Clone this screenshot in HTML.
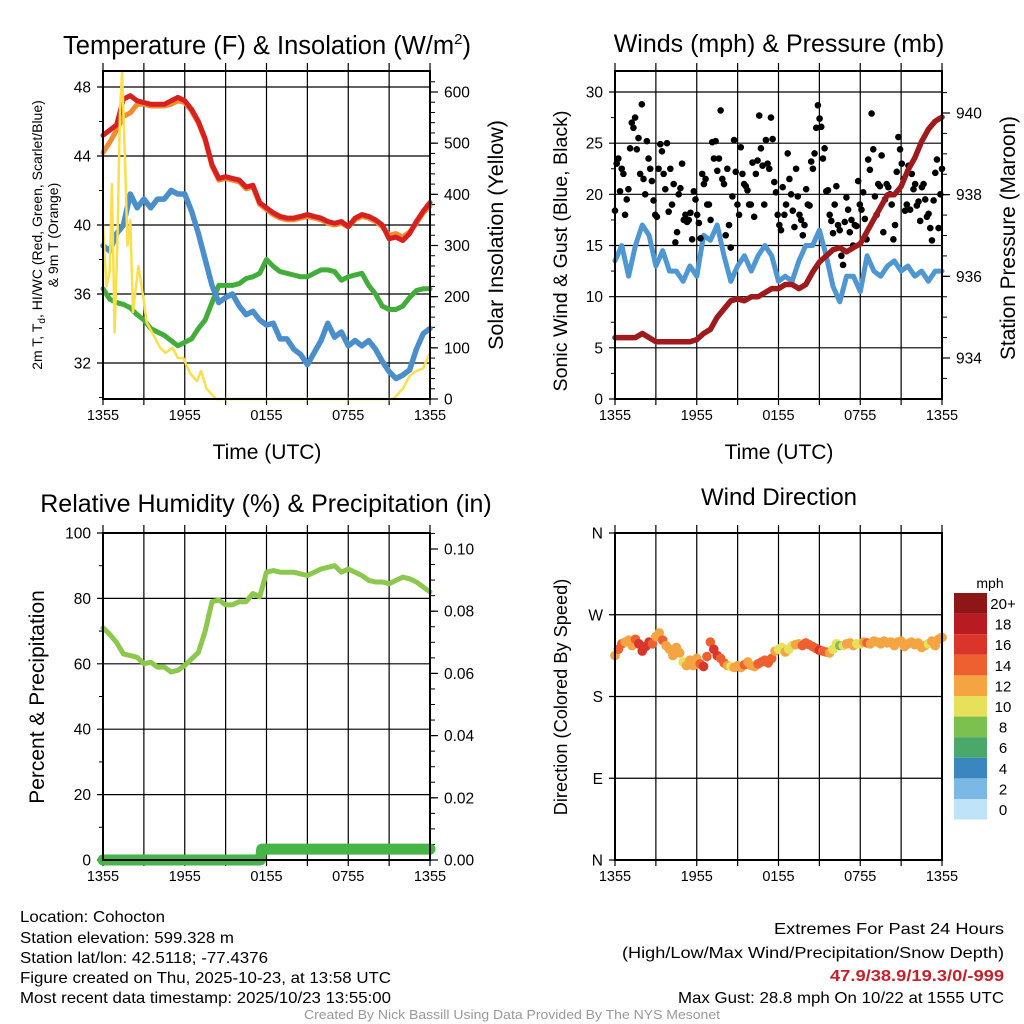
<!DOCTYPE html>
<html><head><meta charset="utf-8">
<style>
html,body{margin:0;padding:0;background:#fff;}
svg{display:block;font-family:"Liberation Sans",sans-serif;}
</style></head>
<body>
<svg id="fig" width="1024" height="1024" viewBox="0 0 1024 1024" xmlns="http://www.w3.org/2000/svg">
<rect x="0" y="0" width="1024" height="1024" fill="#fff"/>
<g id="layer"></g>
<!-- titles -->
<text x="267" y="54" font-size="25.5" text-anchor="middle">Temperature (F) &amp; Insolation (W/m<tspan font-size="15" dy="-10">2</tspan><tspan dy="10">)</tspan></text>
<text x="779" y="52" font-size="25" text-anchor="middle">Winds (mph) &amp; Pressure (mb)</text>
<text x="266" y="512" font-size="25" text-anchor="middle">Relative Humidity (%) &amp; Precipitation (in)</text>
<text x="779" y="505" font-size="24" text-anchor="middle">Wind Direction</text>
<!-- axis titles -->
<text x="267" y="459" font-size="21" text-anchor="middle">Time (UTC)</text>
<text x="779" y="459" font-size="21" text-anchor="middle">Time (UTC)</text>
<text transform="translate(42,235) rotate(-90)" font-size="14" text-anchor="middle">2m T, T<tspan font-size="10" dy="3">d</tspan><tspan dy="-3">, HI/WC (Red, Green, Scarlet/Blue)</tspan></text>
<text transform="translate(58,235) rotate(-90)" font-size="14" text-anchor="middle">&amp; 9m T (Orange)</text>
<text transform="translate(503,235) rotate(-90)" font-size="21.5" text-anchor="middle">Solar Insolation (Yellow)</text>
<text transform="translate(567,251) rotate(-90)" font-size="19.6" text-anchor="middle">Sonic Wind &amp; Gust (Blue, Black)</text>
<text transform="translate(1015,238) rotate(-90)" font-size="20.8" text-anchor="middle">Station Pressure (Maroon)</text>
<text transform="translate(44,697) rotate(-90)" font-size="21" text-anchor="middle">Percent &amp; Precipitation</text>
<text transform="translate(567,697) rotate(-90)" font-size="18.2" text-anchor="middle">Direction (Colored By Speed)</text>
<!-- footer -->
<g font-size="16">
<text x="20" y="922" textLength="145" lengthAdjust="spacingAndGlyphs">Location: Cohocton</text>
<text x="20" y="943" textLength="214" lengthAdjust="spacingAndGlyphs">Station elevation: 599.328 m</text>
<text x="20" y="963" textLength="248" lengthAdjust="spacingAndGlyphs">Station lat/lon: 42.5118; -77.4376</text>
<text x="20" y="983" textLength="371" lengthAdjust="spacingAndGlyphs">Figure created on Thu, 2025-10-23, at 13:58 UTC</text>
<text x="20" y="1003" textLength="371" lengthAdjust="spacingAndGlyphs">Most recent data timestamp: 2025/10/23 13:55:00</text>
</g>
<g font-size="16" text-anchor="end">
<text x="1004" y="934" textLength="230" lengthAdjust="spacingAndGlyphs">Extremes For Past 24 Hours</text>
<text x="1004" y="958" textLength="382" lengthAdjust="spacingAndGlyphs">(High/Low/Max Wind/Precipitation/Snow Depth)</text>
<text x="1004" y="981" fill="#c8202a" font-weight="bold" textLength="174" lengthAdjust="spacingAndGlyphs">47.9/38.9/19.3/0/-999</text>
<text x="1004" y="1003" textLength="326" lengthAdjust="spacingAndGlyphs">Max Gust: 28.8 mph On 10/22 at 1555 UTC</text>
</g>
<text x="512" y="1019" font-size="13" fill="#999" text-anchor="middle" textLength="416" lengthAdjust="spacingAndGlyphs">Created By Nick Bassill Using Data Provided By The NYS Mesonet</text>
</svg>
<script>
// ---- data (values every 0.5 h unless hours given) ----
const timeLabels = ["1355","1955","0155","0755","1355"];
const tempRed = [45.2,45.5,45.8,47.3,47.5,47.2,47.1,47,47,47,47.2,47.4,47.2,46.7,46,45,43.5,42.7,42.8,42.7,42.6,42.2,42.3,41.3,41,40.7,40.5,40.4,40.4,40.5,40.6,40.5,40.4,40.2,40.1,40.2,39.9,40.4,40.6,40.5,40.3,40,39.2,39.3,39.1,39.5,40.2,40.8,41.3];
const tempOrange = [44.2,44.8,45.5,46.3,46.5,47,47,46.9,46.9,46.9,47,47.2,47.1,46.6,45.9,44.9,43.4,42.6,42.7,42.6,42.5,42.1,42.2,41.2,40.9,40.6,40.4,40.3,40.3,40.4,40.5,40.4,40.3,40.1,40,40.1,39.9,40.3,40.5,40.4,40.2,39.9,39.4,39.5,39.3,39.6,40.1,40.7,41.1];
const tempBlue = [38.8,38.5,39.5,40,41.8,41,41.5,41,41.5,41.5,42,41.8,41.8,40.8,39.5,38,36.5,35.5,35.8,36,35.3,34.8,35,34.5,34.2,34.3,33.4,33.4,32.8,32.5,31.9,32.6,33.3,34.3,33.5,33.8,33,33.3,33,33.3,32.8,32.1,31.5,31.1,31.3,31.6,32.8,33.7,34];
const tempGreen = [36.3,35.7,35.5,35.4,35.2,34.8,34.5,34,33.8,33.6,33.3,33,33.2,33.4,34,34.5,35.5,36.5,36.5,36.5,36.6,36.9,37,37.2,38,37.6,37.3,37.2,37.1,37,37,37.2,37.4,37.4,37.3,36.8,37,37.1,37.2,36.5,36,35.3,35.1,35.1,35.3,35.8,36.2,36.3,36.3];
const solarHours = [0,0.25,0.5,0.65,0.85,1.05,1.25,1.4,1.6,1.8,2,2.2,2.6,2.95,3.2,3.6,4.2,4.6,5.1,5.5,5.9,6.4,6.9,7.2,7.6,8.3,21.3,22,22.5,23,23.5,24];
const solarVals = [340,220,250,420,130,300,560,640,480,300,350,170,260,200,150,130,100,90,100,80,80,50,35,55,20,0,0,20,45,55,60,90];
const windSpeed = [13.5,15,12,15,17,16,13,14.5,12.5,12.5,11.5,13,12,16,15.5,17,14,11.5,13,14,12.5,14,15,14,11.5,12,11.5,13.5,15,15,16.5,14,11,9.5,12,12,10.5,14,12.5,12,13,13.5,12.5,13,12,12.5,11.5,12.5,12.5];
const pressure = [934.5,934.5,934.5,934.5,934.6,934.5,934.4,934.4,934.4,934.4,934.4,934.4,934.45,934.6,934.7,935,935.2,935.4,935.45,935.4,935.5,935.5,935.6,935.7,935.7,935.8,935.8,935.7,935.8,936.1,936.35,936.5,936.65,936.7,936.6,936.7,936.8,937.1,937.4,937.7,938,938,938.2,938.6,938.9,939.3,939.6,939.8,939.9];
const gusts = [18.4,23,23.5,20.3,22.5,22,18,19.5,20.5,24.5,27,26.5,27.5,24.4,25.5,22,
28.8,21.5,20,25.2,23.5,22.5,21.3,19.4,18,17.8,22.5,24.9,24.2,22,20.5,25,
18.3,22.5,19,21,15.3,16.3,20,20.6,23,17.5,18,17.3,17.5,18.2,15.6,20.3,19.5,18,17.2,15.7,
22,21,21.5,19,19,17.5,25.1,23.5,25.2,22.3,23.5,28.2,21.5,21,16,22.5,
17,14.8,19.8,25.3,22.2,19,18,24.6,22,21,20.8,20.4,19,19,23.1,17.8,
22,23.3,27.7,24.5,22.8,19,25.3,23,22.5,27.5,25.4,21.2,20.2,18,17,16.5,20.7,18,
19,24,21.5,20,18.4,16.8,22.5,19.8,18,17.5,16,17,20.5,19,18.9,23.2,22.5,24,
26.5,28.7,27.4,26.6,23.5,24.5,20.3,20.4,18,17.4,16.2,19,20.8,17,16.5,14,13.1,17.3,
19.7,18.5,16.3,17.5,15,17,16.9,21.3,19,18.5,20.2,17.6,15.6,23.4,22.4,27.9,24.4,19.8,
18,21,20.8,23.8,16.3,19.5,21,20.7,20,19,15.6,17,22.2,25.6,24.4,23,21.5,18.4,
19,22.8,18.5,22,20.5,21,18.9,19.3,17.4,20.7,21,19.5,17.8,18.1,16.7,15.5,
19.4,22.1,23.4,16.7,20,22.5];
const rh = [71,69,66.5,63,62.5,62,60,60.5,59,59,57.5,58,59.5,61.5,63.5,70,79,79.5,78,78,79,79,81.5,80.5,88,88.5,88,88,88,87.5,87,88,89,89.5,90,88,89,88,87,85.5,85,85,84.5,85.5,86.5,86,85,83.5,82];
const precipHours = [0,11.55,11.65,24];
const precipVals = [0,0,0.0035,0.0035];
// direction every 0.25 h
const windDir = [225,232,238,240,242,236,243,238,230,235,240,238,246,
250,242,236,232,225,234,228,218,214,220,214,222,
216,213,224,240,232,225,222,217,214,213,212,214,
212,215,218,214,213,216,218,220,217,222,230,232,
234,229,232,236,237,238,236,239,237,235,233,231,
230,229,228,232,238,236,236,238,239,236,238,238,
240,239,238,241,240,238,241,239,240,236,240,241,
235,238,240,237,239,234,236,238,241,236,243,245];
const speedBins = ["0","2","4","6","8","10","12","14","16","18","20+"];
const binColors = ["#bfe4f7","#7ab9e6","#3a86c0","#4aa86b","#7cc04f","#e6e05a","#f5a442","#ef6030","#d9352a","#b81c22","#8e1616"];

const NS="http://www.w3.org/2000/svg";
const layer=document.getElementById('layer');
function mk(tag,attrs,parent){const e=document.createElementNS(NS,tag);for(const k in attrs)e.setAttribute(k,attrs[k]);(parent||layer).appendChild(e);return e;}

function panel(x0,x1,y0,y1){return {x0,x1,y0,y1,
 x:h=>x0+(x1-x0)*h/24};}
function lin(d0,d1,p0,p1){return v=>p0+(v-d0)*(p1-p0)/(d1-d0);}

function frame(P,name,yTicks,yScale,yLab,minor,rTicks,rScale,rLab,rMinor){
  const g=mk('g',{});
  
  
  for(let h=0;h<=24;h+=3){const x=P.x(h);
    mk('line',{x1:x,x2:x,y1:P.y0-8,y2:P.y1+6,stroke:'#000','stroke-width':1.2},g);}
  yTicks.forEach((v,i)=>{const y=yScale(v);
    mk('line',{x1:P.x0-6,x2:P.x1,y1:y,y2:y,stroke:'#000','stroke-width':1.2},g);
    const t=mk('text',{x:P.x0-12,y:y+5.5,'font-size':15.5,'text-anchor':'end'},g);t.textContent=yLab[i];});
  (minor||[]).forEach(v=>{const y=yScale(v);mk('line',{x1:P.x0-4,x2:P.x0,y1:y,y2:y,stroke:'#000','stroke-width':1},g);});
  if(rTicks){rTicks.forEach((v,i)=>{const y=rScale(v);
    mk('line',{x1:P.x1,x2:P.x1+8,y1:y,y2:y,stroke:'#000','stroke-width':1.2},g);
    const t=mk('text',{x:P.x1+14,y:y+5.5,'font-size':15.5},g);t.textContent=rLab[i];});
    (rMinor||[]).forEach(v=>{const y=rScale(v);mk('line',{x1:P.x1,x2:P.x1+5,y1:y,y2:y,stroke:'#000','stroke-width':1},g);});}
  timeLabels.forEach((l,i)=>{const t=mk('text',{x:P.x(i*6),y:P.y1+21,'font-size':14.5,'text-anchor':'middle'},g);t.textContent=l;});
  return g;
}
function border(P){mk('rect',{x:P.x0,y:P.y0,width:P.x1-P.x0,height:P.y1-P.y0,fill:'none',stroke:'#000','stroke-width':2});}
function line(P,ys,vals,color,w,name,hours){
  const pts=vals.map((v,i)=>{const h=hours?hours[i]:i*24/(vals.length-1);return P.x(h).toFixed(1)+','+ys(v).toFixed(1);}).join(' ');
  const e=mk('polyline',{points:pts,fill:'none',stroke:color,'stroke-width':w,'stroke-linejoin':'round','stroke-linecap':'round'});
  
  
  return e;
}
function range(a,b,s){const r=[];for(let v=a;v<=b+1e-9;v+=s)r.push(+v.toFixed(4));return r;}

// ---- Panel 1: temperature ----
const P1=panel(103,430,71,399);
const yT=lin(32,48,363,87), yS=lin(0,600,399,92);
frame(P1,'temperature',[32,36,40,44,48],yT,["32","36","40","44","48"],[30,34,38,42,46],
  [0,100,200,300,400,500,600],yS,["0","100","200","300","400","500","600"],range(20,620,20));
line(P1,yT,tempOrange,'#f58a2e',5,'temp-9m-orange');
line(P1,yT,tempRed,'#d7201f',5,'temp-2m-red');
line(P1,yT,tempGreen,'#43ad3b',5,'dewpoint-green');
line(P1,yT,tempBlue,'#4a8fcc',5.5,'windchill-blue');
line(P1,yS,solarVals,'#f9e04b',2.5,'solar-yellow',solarHours);
border(P1);

// ---- Panel 2: winds ----
const P2=panel(615,942,71,399);
const yW=lin(0,30,399,92), yP=lin(934,940,358,113);
frame(P2,'winds',[0,5,10,15,20,25,30],yW,["0","5","10","15","20","25","30"],range(2.5,30,5),
  [934,936,938,940],yP,["934","936","938","940"],range(933.5,940.5,0.5));
line(P2,yW,windSpeed,'#4f97d3',5,'sonic-wind-blue');
const gg=mk('g',{});


gusts.forEach((v,i)=>{const c=mk('circle',{cx:P2.x(i*24/(gusts.length-1)),cy:yW(v),r:3.3,fill:'#000'},gg);
  
  });
line(P2,yP,pressure,'#9e1a1d',5.5,'pressure-maroon');
border(P2);

// ---- Panel 3: RH ----
const P3=panel(103,430,533,860);
const yR=lin(0,100,860,533), yPr=lin(0,0.1,860,549);
frame(P3,'humidity',[0,20,40,60,80,100],yR,["0","20","40","60","80","100"],range(10,90,20),
  [0,0.02,0.04,0.06,0.08,0.1],yPr,["0.00","0.02","0.04","0.06","0.08","0.10"],range(0.005,0.105,0.005));
line(P3,yR,rh,'#8cc84b',5,'rh-line');
line(P3,yPr,precipVals,'#46b446',11,'precip-line',precipHours);
border(P3);

// ---- Panel 4: direction ----
const P4=panel(615,942,533,860);
const yD=lin(0,360,860,533);
frame(P4,'direction',[0,90,180,270,360],yD,["N","E","S","W","N"],[]);
const dg=mk('g',{});


function spdAt(h){const f=h/0.5,i=Math.min(Math.floor(f),windSpeed.length-2),t=f-i;return windSpeed[i]*(1-t)+windSpeed[i+1]*t;}
windDir.forEach((d,i)=>{const h=i*24/(windDir.length-1);const s=spdAt(h);
  const b=Math.max(0,Math.min(10,Math.floor(s/2)));
  const c=mk('circle',{cx:P4.x(h),cy:yD(d),r:4.8,fill:binColors[b]},dg);
  
  });
border(P4);

// colorbar
const cb=mk('g',{});


const ut=mk('text',{x:990,y:588,'font-size':14,'text-anchor':'middle'},cb);ut.textContent='mph';
for(let i=0;i<11;i++){const b=10-i;const y=593+i*20.6;
  const r=mk('rect',{x:954,y:y,width:33,height:20.6,fill:binColors[b]},cb);
  
  
  const t=mk('text',{x:1003,y:y+16,'font-size':15,'text-anchor':'middle'},cb);t.textContent=speedBins[b];}
</script>
</body></html>
